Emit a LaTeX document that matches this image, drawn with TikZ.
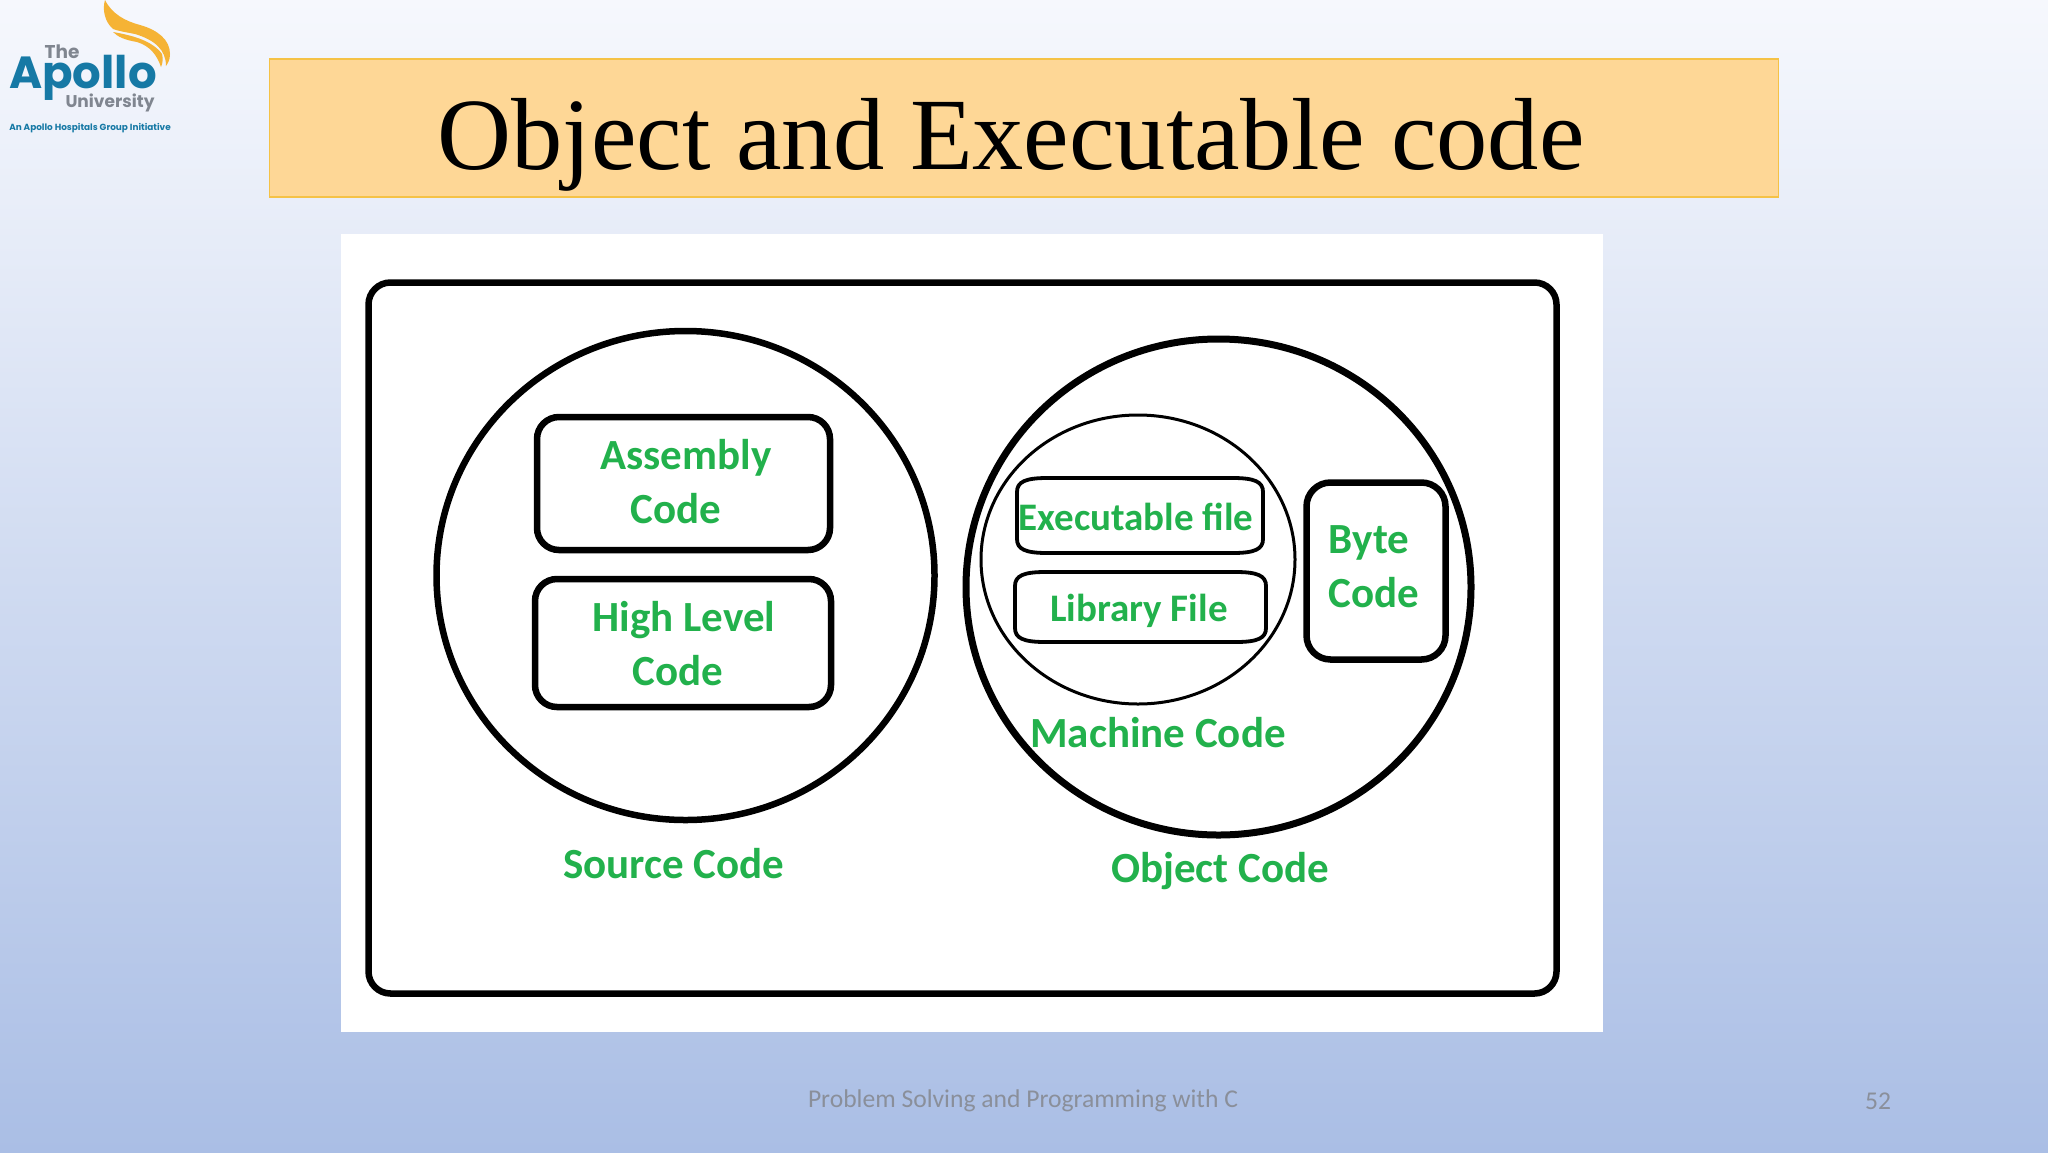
\documentclass[tikz,border=0pt]{standalone}
\usepackage{fontspec}
\setmainfont{Liberation Serif}
\newfontfamily\carlito{Carlito}
\newfontfamily\pop{Poppins}
\usetikzlibrary{shapes.geometric}
\definecolor{gr}{HTML}{22B14C}
\definecolor{apblue}{HTML}{1679A5}
\definecolor{apgray}{HTML}{808690}
\definecolor{apyel}{HTML}{F5B335}
\definecolor{bgtop}{HTML}{F6F8FD}
\definecolor{bgbot}{HTML}{AABEE5}
\definecolor{footc}{HTML}{8A8F9A}
\tikzset{
 x=1pt,y=-1pt,
 fs/.style={font=\carlito\bfseries\fontsize{#1}{#1}\selectfont,text=gr,inner sep=0pt,anchor=center},
 lbl/.style={fs=43},
 small/.style={fs=39},
 rbox/.style={draw=black,line width=6.5pt,rounded corners=22pt,inner sep=0pt},
 circ/.style={draw=black,ellipse,inner sep=0pt},
 softline/.style={draw=black,line width=3.8pt},
}
\newcommand{\softbox}[5]{% name x1 y1 x2 y2
 \node[inner sep=0pt,minimum width=#4-#2,minimum height=#5-#3] (#1) at ({(#2+#4)/2},{(#3+#5)/2}) {};
 \draw[softline] (#2+30,#3) -- (#4-30,#3) .. controls (#4-8,#3) and (#4,#3+4) .. (#4,#3+14) -- (#4,#5-14) .. controls (#4,#5-4) and (#4-8,#5) .. (#4-30,#5) -- (#2+30,#5) .. controls (#2+8,#5) and (#2,#5-4) .. (#2,#5-14) -- (#2,#3+14) .. controls (#2,#3+4) and (#2+8,#3) .. (#2+30,#3) -- cycle;
}
\begin{document}
\begin{tikzpicture}
\useasboundingbox (0,0) rectangle (2048,1152);
\shade[top color=bgtop,bottom color=bgbot] (0,0) rectangle (2048,1152);
% title
\node[draw={rgb,255:red,245;green,194;blue,70},line width=1.3pt,fill={rgb,255:red,254;green,215;blue,150},minimum width=1509pt,minimum height=138pt,inner sep=0pt] (titlebar) at (1024,128) {};
\node[font=\fontsize{102.5}{102.5}\selectfont,text=black,inner sep=0pt,anchor=center] (title) at (1011,145) {Object and Executable code};
% image
\node[fill=white,minimum width=1262pt,minimum height=798pt,inner sep=0pt] (panel) at (972,633) {};
\node[rbox,minimum width=1188pt,minimum height=711pt] (outer) at (962.5,638) {};
\node[circ,line width=6.5pt,minimum width=498pt,minimum height=489pt] (src) at (685.5,575.5) {};
\node[circ,line width=7pt,minimum width=505pt,minimum height=496pt] (obj) at (1218.5,587) {};
\node[circ,line width=3pt,minimum width=314pt,minimum height=289pt] (mach) at (1138,559.5) {};
\node[rbox,minimum width=293pt,minimum height=133pt] (asm) at (683.5,483.5) {};
\node[rbox,minimum width=296pt,minimum height=128pt] (hll) at (683,643) {};
\node[rbox,line width=6.5pt,rounded corners=24pt,minimum width=139pt,minimum height=177pt] (byte) at (1376,571) {};
\softbox{exec}{1017}{478}{1263}{553}
\softbox{lib}{1015}{572}{1266}{642}
\node[lbl] (t1) at (686,458) {Assembly};
\node[lbl] (t2) at (676,509) {Code};
\node[lbl] (t3) at (684,620) {High Level};
\node[lbl] (t4) at (678,671) {Code};
\node[lbl] (t5) at (674,864) {Source Code};
\node[lbl] (t6) at (1220,871) {Object Code};
\node[lbl] (t7) at (1158,733) {Machine Code};
\node[small] (t8) at (1136,517) {Executable file};
\node[small] (t9) at (1139,611) {Library File};
\node[lbl] (t10) at (1369,543) {Byte};
\node[lbl] (t11) at (1374,593) {Code};
% footer
\node[font=\carlito\fontsize{25.6}{25.6}\selectfont,text=footc,inner sep=0pt] (foot) at (1023,1101) {Problem Solving and Programming with C};
\node[font=\carlito\fontsize{25.6}{25.6}\selectfont,text=footc,inner sep=0pt] (page) at (1878,1101) {52};
% logo
\fill[apyel] (105,0) .. controls (112,14) and (125,21) .. (140,25) .. controls (158,30) and (170,40) .. (170,54) .. controls (170,60) and (168,63) .. (166,66) .. controls (166,50) and (155,40) .. (135,34) .. controls (125,32) and (118,31) .. (113,29) .. controls (105,22) and (102,10) .. (105,0) -- cycle;
\fill[apyel] (113,32) .. controls (130,35) and (152,40) .. (162,54) .. controls (163,58) and (163,63) .. (161,67) .. controls (157,55) and (150,46) .. (137,42) .. controls (125,40) and (118,37) .. (113,32) -- cycle;
\node[font=\pop\bfseries\fontsize{18.5}{18.5}\selectfont,text=apgray,inner sep=0pt] (the) at (62,52) {The};
\node[font=\pop\bfseries\fontsize{45}{45}\selectfont,text=apblue,inner sep=0pt] (apollo) at (83,78) {Apollo};
\node[font=\pop\bfseries\fontsize{17}{17}\selectfont,text=apgray,inner sep=0pt] (univ) at (110,103) {University};
\node[font=\pop\bfseries\fontsize{8.9}{8.9}\selectfont,text=apblue,inner sep=0pt] (tag) at (90,128) {An Apollo Hospitals Group Initiative};
\end{tikzpicture}
\end{document}
